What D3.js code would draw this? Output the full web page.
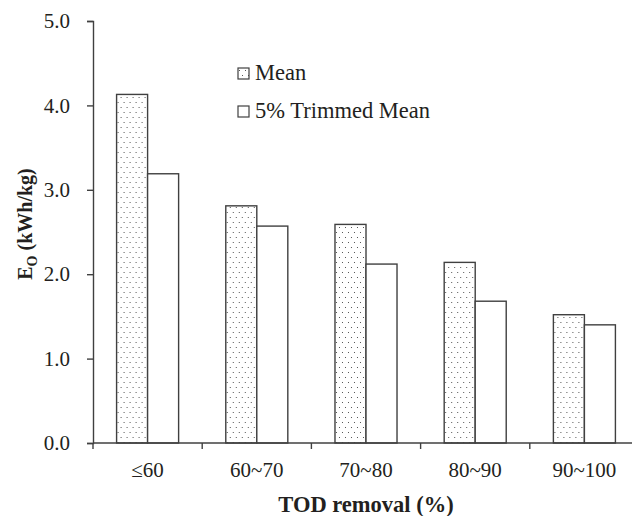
<!DOCTYPE html>
<html>
<head>
<meta charset="utf-8">
<script src="https://cdn.jsdelivr.net/npm/d3@7"></script>
<style>
  body { margin: 0; background: #fff; }
  svg text { font-family: "Liberation Serif", "Times New Roman", serif; fill: #231f20; }
</style>
</head>
<body>
<div id="chart"></div>
<script>
const categories = ["≤60", "60~70", "70~80", "80~90", "90~100"];
const series = ["Mean", "5% Trimmed Mean"];
const meanValues = [4.13, 2.81, 2.59, 2.14, 1.52];
const trimmedValues = [3.19, 2.57, 2.12, 1.68, 1.40];
const yTicks = [0, 1, 2, 3, 4, 5];

const width = 632;
const height = 516;
const margin = { t: 21, r: -7, b: 73, l: 93 };
const ink = "#404040";

const rows = categories.map((c, i) => ({
  cat: c,
  values: [
    { key: series[0], value: meanValues[i] },
    { key: series[1], value: trimmedValues[i] },
  ],
}));

const svg = d3
  .select("#chart")
  .append("svg")
  .attr("width", width)
  .attr("height", height);

// dotted fill for the Mean bars
const pat = svg
  .append("defs")
  .append("pattern")
  .attr("id", "dots")
  .attr("patternUnits", "userSpaceOnUse")
  .attr("width", 6)
  .attr("height", 10);
pat.append("rect").attr("width", 6).attr("height", 10).attr("fill", "#fff");
pat.append("rect").attr("x", 1).attr("y", 2).attr("width", 1).attr("height", 1).attr("fill", "#555");
pat.append("rect").attr("x", 4).attr("y", 7).attr("width", 1).attr("height", 1).attr("fill", "#555");

const x0 = d3
  .scaleBand()
  .domain(categories)
  .range([margin.l, width - margin.r])
  .paddingInner(0.432)
  .paddingOuter(0.216);

const x1 = d3.scaleBand().domain(series).range([0, x0.bandwidth()]);

const y = d3
  .scaleLinear()
  .domain([0, 5])
  .range([height - margin.b, margin.t]);

const step = x0.step();
const bandStart = (c) => x0(c) - (step - x0.bandwidth()) / 2;

// bars
const groups = svg
  .append("g")
  .selectAll("g")
  .data(rows)
  .join("g")
  .attr("transform", (d) => `translate(${x0(d.cat)},0)`);

groups
  .selectAll("rect")
  .data((d) => d.values)
  .join("rect")
  .attr("x", (d) => x1(d.key))
  .attr("y", (d) => y(d.value))
  .attr("width", x1.bandwidth())
  .attr("height", (d) => y(0) - y(d.value))
  .attr("fill", (d) => (d.key === series[0] ? "url(#dots)" : "#fff"))
  .attr("stroke", ink)
  .attr("stroke-width", 1.4);

// y axis
const yAxis = svg
  .append("g")
  .attr("transform", `translate(${margin.l},0)`)
  .call(
    d3.axisLeft(y)
      .tickValues(yTicks)
      .tickSize(6)
      .tickPadding(17)
      .tickFormat(d3.format(".1f"))
  )
  .attr("font-family", null);
yAxis.select(".domain").attr("stroke", ink).attr("stroke-width", 1.4);
yAxis.selectAll(".tick line").attr("stroke", ink).attr("stroke-width", 1.4);
yAxis.selectAll(".tick text").style("font-size", "21px");

// x axis: ticks sit between categories
const xAxis = svg.append("g");
xAxis
  .append("line")
  .attr("x1", margin.l)
  .attr("x2", width - margin.r)
  .attr("y1", y(0))
  .attr("y2", y(0))
  .attr("stroke", ink)
  .attr("stroke-width", 1.4);
xAxis
  .selectAll(".xt")
  .data(categories)
  .join("line")
  .attr("class", "xt")
  .attr("x1", (d) => bandStart(d))
  .attr("x2", (d) => bandStart(d))
  .attr("y1", y(0))
  .attr("y2", y(0) + 6)
  .attr("stroke", ink)
  .attr("stroke-width", 1.4);
xAxis
  .selectAll(".xl")
  .data(categories)
  .join("text")
  .attr("class", "xl")
  .attr("x", (d) => x0(d) + x0.bandwidth() / 2)
  .attr("y", y(0) + 34)
  .attr("text-anchor", "middle")
  .style("font-size", "21px")
  .text((d) => d);

// axis titles
svg
  .append("text")
  .attr("x", margin.l + (width - margin.r - margin.l) / 2)
  .attr("y", 512)
  .attr("text-anchor", "middle")
  .style("font-size", "22.5px")
  .style("font-weight", "bold")
  .text("TOD removal (%)");

const yt = svg
  .append("text")
  .attr("transform", `translate(32,224) rotate(-90)`)
  .attr("text-anchor", "middle")
  .style("font-size", "20px")
  .style("font-weight", "bold");
yt.append("tspan").text("E");
yt.append("tspan").attr("dy", 5).style("font-size", "14px").text("O");
yt.append("tspan").attr("dy", -5).text(" (kWh/kg)");

// legend
const legend = svg
  .append("g")
  .selectAll("g")
  .data(series)
  .join("g")
  .attr("transform", (d, i) => `translate(238,${68 + i * 38})`);
legend
  .append("rect")
  .attr("width", 11)
  .attr("height", 11)
  .attr("fill", (d) => (d === series[0] ? "url(#dots)" : "#fff"))
  .attr("stroke", ink)
  .attr("stroke-width", 1.2);
legend
  .append("text")
  .attr("x", 17)
  .attr("y", 12)
  .style("font-size", "22.5px")
  .text((d) => d);
</script>
</body>
</html>
